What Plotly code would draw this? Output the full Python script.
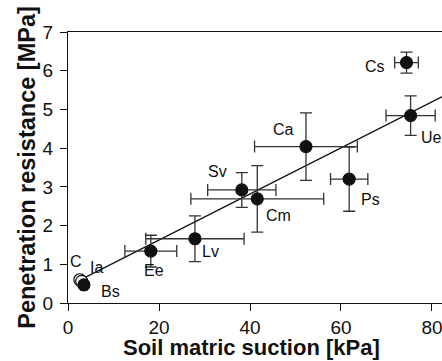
import plotly.graph_objects as go

# Soil units: mean matric suction vs. penetration resistance (+/- SD)
names = ["C", "Ia", "Bs", "Ee", "Lv", "Sv", "Cm", "Ca", "Ps", "Ue", "Cs"]
suction = [2.6, 3.0, 3.5, 18.2, 27.9, 38.2, 41.6, 52.3, 61.8, 75.3, 74.4]
suction_sd = [0.6, 0.6, 0.7, 5.7, 10.8, 7.5, 14.6, 11.3, 4.1, 5.4, 2.6]
resistance = [0.60, 0.56, 0.47, 1.34, 1.66, 2.92, 2.69, 4.04, 3.20, 4.84, 6.21]
resistance_sd = [0.06, 0.06, 0.07, 0.41, 0.59, 0.45, 0.86, 0.87, 0.83, 0.51, 0.27]
open_units = ["C", "Ia"]

x_title = "Soil matric suction [kPa]"
y_title = "Penetration resistance [MPa]"

# Linear regression line
slope = 0.0595
intercept = 0.435
fit_x = [2.6, 86.0]
fit_y = [intercept + slope * v for v in fit_x]

# Label offsets in pixels (right, down) relative to each point
label_offsets = {
    "C": (-4, -18), "Ia": (15, -14), "Bs": (27, 7), "Ee": (3, 19),
    "Lv": (16, 13), "Sv": (-24, -18), "Cm": (21, 17), "Ca": (-22, -17),
    "Ps": (21, 20), "Ue": (21, 22), "Cs": (-32, 4),
}

font_family = "Liberation Sans, Arial, sans-serif"
ink = "#111111"
W, H = 442, 361
M = dict(l=68, r=0, t=32, b=58)

fig = go.Figure()

fig.add_trace(go.Scatter(
    x=fit_x, y=fit_y, mode="lines",
    line=dict(color=ink, width=1.3), showlegend=False, hoverinfo="skip",
))

fill_colors = ["white" if n in open_units else ink for n in names]
fig.add_trace(go.Scatter(
    x=suction, y=resistance, mode="markers",
    marker=dict(size=12, color=fill_colors, line=dict(color=ink, width=1.2)),
    error_x=dict(type="data", array=suction_sd, color="#333333", thickness=1.3, width=6),
    error_y=dict(type="data", array=resistance_sd, color="#333333", thickness=1.3, width=6),
    showlegend=False, cliponaxis=False,
))

for n, xv, yv in zip(names, suction, resistance):
    dx, dy = label_offsets[n]
    fig.add_annotation(
        x=xv, y=yv, xref="x", yref="y", text=n, showarrow=False,
        xshift=dx, yshift=-dy, font=dict(family=font_family, size=16, color=ink),
    )

# x-axis title sitting on the bottom edge of the figure
plot_h = H - M["t"] - M["b"]
fig.add_annotation(
    x=0.49, y=-M["b"] / plot_h, xref="paper", yref="paper", text=f"<b>{x_title}</b>",
    showarrow=False, yanchor="bottom", borderpad=0, yshift=0,
    font=dict(family=font_family, size=22, color=ink),
)

fig.update_layout(
    width=W, height=H, margin=M,
    paper_bgcolor="white", plot_bgcolor="white",
    font=dict(family=font_family, color=ink),
)
fig.update_xaxes(
    range=[0, 82.2], tickvals=[0, 20, 40, 60, 80],
    showgrid=False, zeroline=False,
    showline=True, linecolor=ink, linewidth=1.3, mirror=True,
    ticks="outside", ticklen=7, tickcolor=ink, tickwidth=1.3,
    ticklabeloverflow="allow",
    tickfont=dict(size=19, family=font_family),
)
fig.update_yaxes(
    range=[0, 7], tickvals=list(range(0, 8)),
    showgrid=False, zeroline=False,
    showline=True, linecolor=ink, linewidth=1.3,
    ticks="outside", ticklen=7, tickcolor=ink, tickwidth=1.3,
    ticklabelstandoff=3,
    tickfont=dict(size=19, family=font_family),
    title=dict(text=f"<b>{y_title}</b>", font=dict(size=23.5, family=font_family), standoff=0),
)

fig.write_html("out.html")
